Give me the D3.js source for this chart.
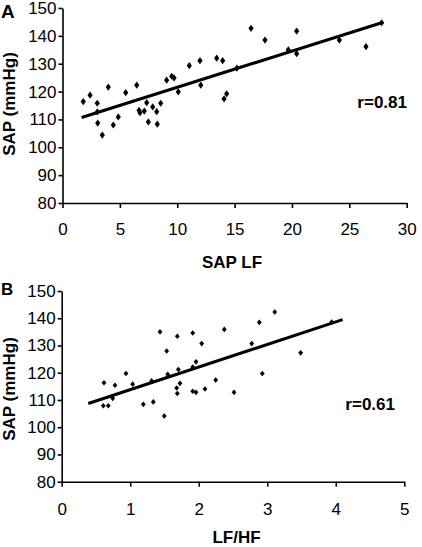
<!DOCTYPE html>
<html>
<head>
<meta charset="utf-8">
<script src="https://cdn.jsdelivr.net/npm/d3@7"></script>
<style>
  html, body { margin: 0; padding: 0; background: #fff; }
  svg { display: block; }
  text { font-family: "Liberation Sans", Arial, sans-serif; fill: #000; }
</style>
</head>
<body>
<svg id="chart" width="422" height="547"></svg>
<script>
// ---------- Data ----------
// Panel A: SAP LF vs SAP (mmHg)
const aX = [1.81, 2.40, 3.03, 3.03, 3.07, 3.47, 3.99, 4.43, 4.86, 5.51,
            6.47, 6.67, 6.75, 7.13, 7.34, 7.48, 7.86, 8.21, 8.26, 8.56,
            9.08, 9.52, 9.72, 10.09, 11.05, 11.98, 12.05, 13.44, 13.96, 14.08,
            14.31, 15.2, 16.43, 17.65, 19.68, 20.41, 20.41, 24.13, 26.45, 27.82];
const aY = [116.4, 118.7, 115.8, 112.7, 108.7, 104.4, 121.6, 108.0, 110.9, 119.6,
            122.3, 113.3, 112.4, 113.0, 116.0, 109.1, 114.5, 112.8, 108.3, 115.8,
            124.1, 125.5, 124.9, 119.9, 129.3, 131.1, 122.3, 132.0, 131.1, 117.4,
            119.2, 128.4, 142.7, 138.5, 135.0, 141.7, 133.6, 138.5, 136.1, 144.7];
const aFitX = [1.67, 27.82];
const aFitY = [110.7, 144.7];

// Panel B: LF/HF vs SAP (mmHg)
const bX = [1.435, 1.687, 1.912, 2.043, 1.532, 0.938, 0.617, 0.778, 1.036, 1.313,
            1.547, 1.702, 1.912, 1.960, 1.726, 1.678, 1.687, 1.912, 1.960, 2.091,
            2.248, 0.744, 0.607, 0.680, 1.191, 1.337, 1.497, 2.373, 2.884, 3.109,
            2.773, 3.488, 2.928, 2.515, 3.94];
const bY = [135.0, 133.4, 134.6, 130.7, 128.0, 119.7, 116.3, 115.4, 115.8, 117.0,
            119.4, 121.2, 122.1, 124.0, 116.1, 114.4, 112.4, 113.2, 112.8, 114.0,
            117.3, 110.6, 107.9, 107.9, 108.4, 109.3, 104.1, 135.9, 138.5, 142.3,
            130.7, 127.3, 119.7, 112.8, 138.6];
const bFitX = [0.388, 4.10];
const bFitY = [108.7, 139.5];

// Ticks and labels
const yTicks = [80, 90, 100, 110, 120, 130, 140, 150];
const aXTicks = [0, 5, 10, 15, 20, 25, 30];
const bXTicks = [0, 1, 2, 3, 4, 5];
const yTitle = "SAP (mmHg)";
const aXTitle = "SAP LF";
const bXTitle = "LF/HF";
const aLetter = "A", bLetter = "B";
const aR = "r=0.81", bR = "r=0.61";

// ---------- Drawing ----------
const svg = d3.select("#chart");

function panel(cfg) {
  const g = svg.append("g");
  const x = d3.scaleLinear().domain([cfg.xTicks[0], cfg.xTicks[cfg.xTicks.length - 1]]).range(cfg.xr);
  const y = d3.scaleLinear().domain([80, 150]).range(cfg.yr);

  const yAxis = d3.axisLeft(y).tickValues(yTicks).tickFormat(d3.format("d"))
    .tickSize(4).tickSizeOuter(0).tickPadding(2);
  const xAxis = d3.axisBottom(x).tickValues(cfg.xTicks).tickFormat(d3.format("d"))
    .tickSize(5).tickSizeOuter(0).tickPadding(cfg.xPad);

  const ya = g.append("g").attr("transform", `translate(${cfg.xr[0]},0)`).call(yAxis);
  const xa = g.append("g").attr("transform", `translate(0,${cfg.yr[0]})`).call(xAxis);
  [ya, xa].forEach(a => {
    a.select(".domain").attr("stroke", "#000").attr("stroke-width", 1.6);
    a.selectAll(".tick line").attr("stroke", "#000").attr("stroke-width", 1.6);
    a.selectAll(".tick text").attr("font-size", 17).attr("fill", "#000")
      .attr("font-family", '"Liberation Sans", Arial, sans-serif');
  });

  // regression line
  g.append("line")
    .attr("x1", x(cfg.fitX[0])).attr("y1", y(cfg.fitY[0]))
    .attr("x2", x(cfg.fitX[1])).attr("y2", y(cfg.fitY[1]))
    .attr("stroke", "#000").attr("stroke-width", 3);

  // diamond markers
  const hw = cfg.hw, hh = cfg.hh;
  g.append("g").selectAll("path").data(cfg.xs.map((v, i) => [v, cfg.ys[i]]))
    .join("path")
    .attr("d", d => {
      const px = x(d[0]), py = y(d[1]);
      return `M${px},${py - hh}L${px + hw},${py}L${px},${py + hh}L${px - hw},${py}Z`;
    })
    .attr("fill", "#000");

  // titles
  g.append("text").attr("x", cfg.xTitlePos[0]).attr("y", cfg.xTitlePos[1])
    .attr("text-anchor", "middle").attr("font-weight", "bold").attr("font-size", 17)
    .text(cfg.xTitle);
  g.append("text")
    .attr("transform", `translate(${cfg.yTitlePos[0]},${cfg.yTitlePos[1]}) rotate(-90)`)
    .attr("text-anchor", "middle").attr("font-weight", "bold").attr("font-size", cfg.yTitleSize)
    .text(yTitle);
  g.append("text").attr("x", cfg.letterPos[0]).attr("y", cfg.letterPos[1])
    .attr("font-weight", "bold").attr("font-size", cfg.letterSize).text(cfg.letter);
  g.append("text").attr("x", cfg.rPos[0]).attr("y", cfg.rPos[1])
    .attr("text-anchor", "end").attr("font-weight", "bold").attr("font-size", 17).text(cfg.r);
}

panel({
  xs: aX, ys: aY, fitX: aFitX, fitY: aFitY, xTicks: aXTicks,
  xr: [62.5, 406.7], yr: [203, 8], xPad: 15,
  hw: 2.6, hh: 3.6,
  xTitle: aXTitle, xTitlePos: [232, 268],
  yTitlePos: [15, 104], yTitleSize: 17,
  letter: aLetter, letterPos: [1, 18], letterSize: 19,
  r: aR, rPos: [407, 108]
});

panel({
  xs: bX, ys: bY, fitX: bFitX, fitY: bFitY, xTicks: bXTicks,
  xr: [61.7, 404.3], yr: [481.7, 291], xPad: 16,
  hw: 2.4, hh: 2.8,
  xTitle: bXTitle, xTitlePos: [236.5, 543],
  yTitlePos: [15, 389], yTitleSize: 17,
  letter: bLetter, letterPos: [1, 295], letterSize: 17,
  r: bR, rPos: [395, 410]
});
</script>
</body>
</html>
